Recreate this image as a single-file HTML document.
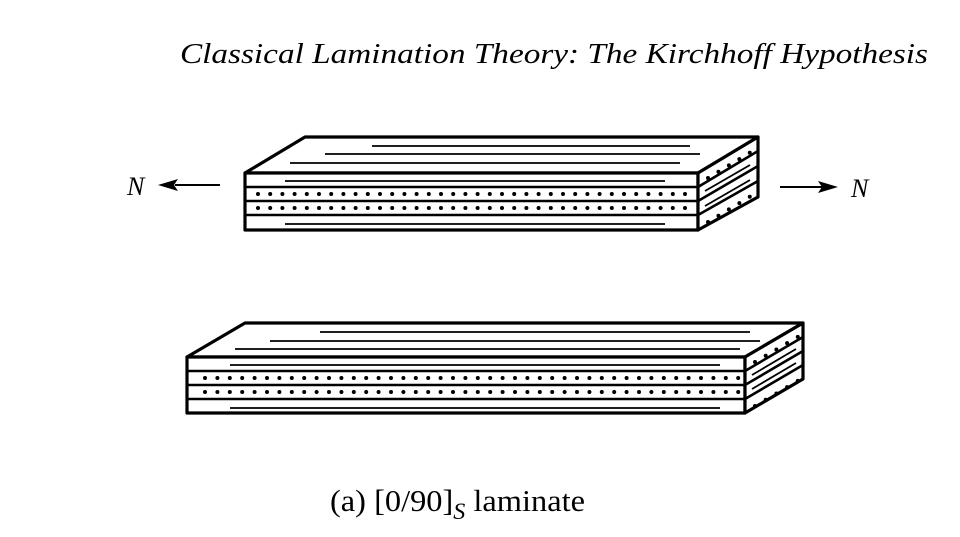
<!DOCTYPE html>
<html><head><style>
html,body{margin:0;padding:0;background:#fff;}
svg{display:block;}
</style></head><body>
<svg width="960" height="537" viewBox="0 0 960 537" xmlns="http://www.w3.org/2000/svg">
<g fill="none" stroke="#000" stroke-linejoin="round">
<!-- TOP BLOCK -->
<polygon points="245,173 305,137 758,137 698,173" stroke-width="3.2" fill="#fff"/>
<rect x="245" y="173" width="453" height="57" stroke-width="3.2" fill="#fff"/>
<polygon points="698,173 758,137 758,197 698,230" stroke-width="3.2" fill="#fff"/>
<g stroke-width="2.6">
<line x1="245" y1="187" x2="698" y2="187"/>
<line x1="245" y1="201" x2="698" y2="201"/>
<line x1="245" y1="215" x2="698" y2="215"/>
<line x1="698" y1="187" x2="758" y2="151"/>
<line x1="698" y1="201" x2="758" y2="166"/>
<line x1="698" y1="215" x2="758" y2="181"/>
</g>
<g stroke-width="1.8">
<line x1="372" y1="146" x2="690" y2="146"/>
<line x1="325" y1="154" x2="700" y2="154"/>
<line x1="290" y1="163" x2="680" y2="163"/>
<line x1="285" y1="181" x2="665" y2="181"/>
<line x1="285" y1="224" x2="665" y2="224"/>
<line x1="705" y1="191" x2="750" y2="165"/>
<line x1="705" y1="206" x2="750" y2="180"/>
</g>
<g stroke-width="4" stroke-linecap="round" stroke-dasharray="0 12.2">
<line x1="258" y1="194" x2="692" y2="194"/>
<line x1="258" y1="208" x2="692" y2="208"/>
<line x1="708" y1="178" x2="756" y2="149"/>
<line x1="708" y1="222" x2="756" y2="193"/>
</g>
<!-- BOTTOM BLOCK -->
<polygon points="187,357 245,323 803,323 745,357" stroke-width="3.2" fill="#fff"/>
<rect x="187" y="357" width="558" height="56" stroke-width="3.2" fill="#fff"/>
<polygon points="745,357 803,323 803,379 745,413" stroke-width="3.2" fill="#fff"/>
<g stroke-width="2.6">
<line x1="187" y1="371" x2="745" y2="371"/>
<line x1="187" y1="385" x2="745" y2="385"/>
<line x1="187" y1="399" x2="745" y2="399"/>
<line x1="745" y1="371" x2="803" y2="337"/>
<line x1="745" y1="385" x2="803" y2="351"/>
<line x1="745" y1="399" x2="803" y2="365"/>
</g>
<g stroke-width="1.8">
<line x1="320" y1="332" x2="750" y2="332"/>
<line x1="270" y1="341" x2="760" y2="341"/>
<line x1="235" y1="349" x2="740" y2="349"/>
<line x1="230" y1="365" x2="720" y2="365"/>
<line x1="230" y1="408" x2="720" y2="408"/>
<line x1="752" y1="375" x2="796" y2="349"/>
<line x1="752" y1="389" x2="796" y2="363"/>
</g>
<g stroke-width="4" stroke-linecap="round" stroke-dasharray="0 12.4">
<line x1="205" y1="378" x2="740" y2="378"/>
<line x1="205" y1="392" x2="740" y2="392"/>
<line x1="755" y1="362" x2="801" y2="335"/>
<line x1="755" y1="406" x2="801" y2="379"/>
</g>
<!-- ARROWS -->
<line x1="175" y1="185" x2="220" y2="185" stroke-width="2"/>
<polygon points="158,185 178,179 174,185 178,191" fill="#000" stroke="none"/>
<line x1="780" y1="187" x2="822" y2="187" stroke-width="2"/>
<polygon points="838,187 818,181 822,187 818,193" fill="#000" stroke="none"/>
</g>
<g font-family="'Liberation Serif', serif" fill="#000">
<text x="180" y="63" font-size="28" font-style="italic" textLength="748" lengthAdjust="spacingAndGlyphs">Classical Lamination Theory: The Kirchhoff Hypothesis</text>
<text x="127" y="195" font-size="26" font-style="italic">N</text>
<text x="851" y="197" font-size="26" font-style="italic">N</text>
<text x="330" y="511" font-size="31" textLength="255" lengthAdjust="spacingAndGlyphs">(a) [0/90]<tspan font-size="23" font-style="italic" dy="8">S</tspan><tspan dy="-8"> laminate</tspan></text>
</g>
</svg>
</body></html>
